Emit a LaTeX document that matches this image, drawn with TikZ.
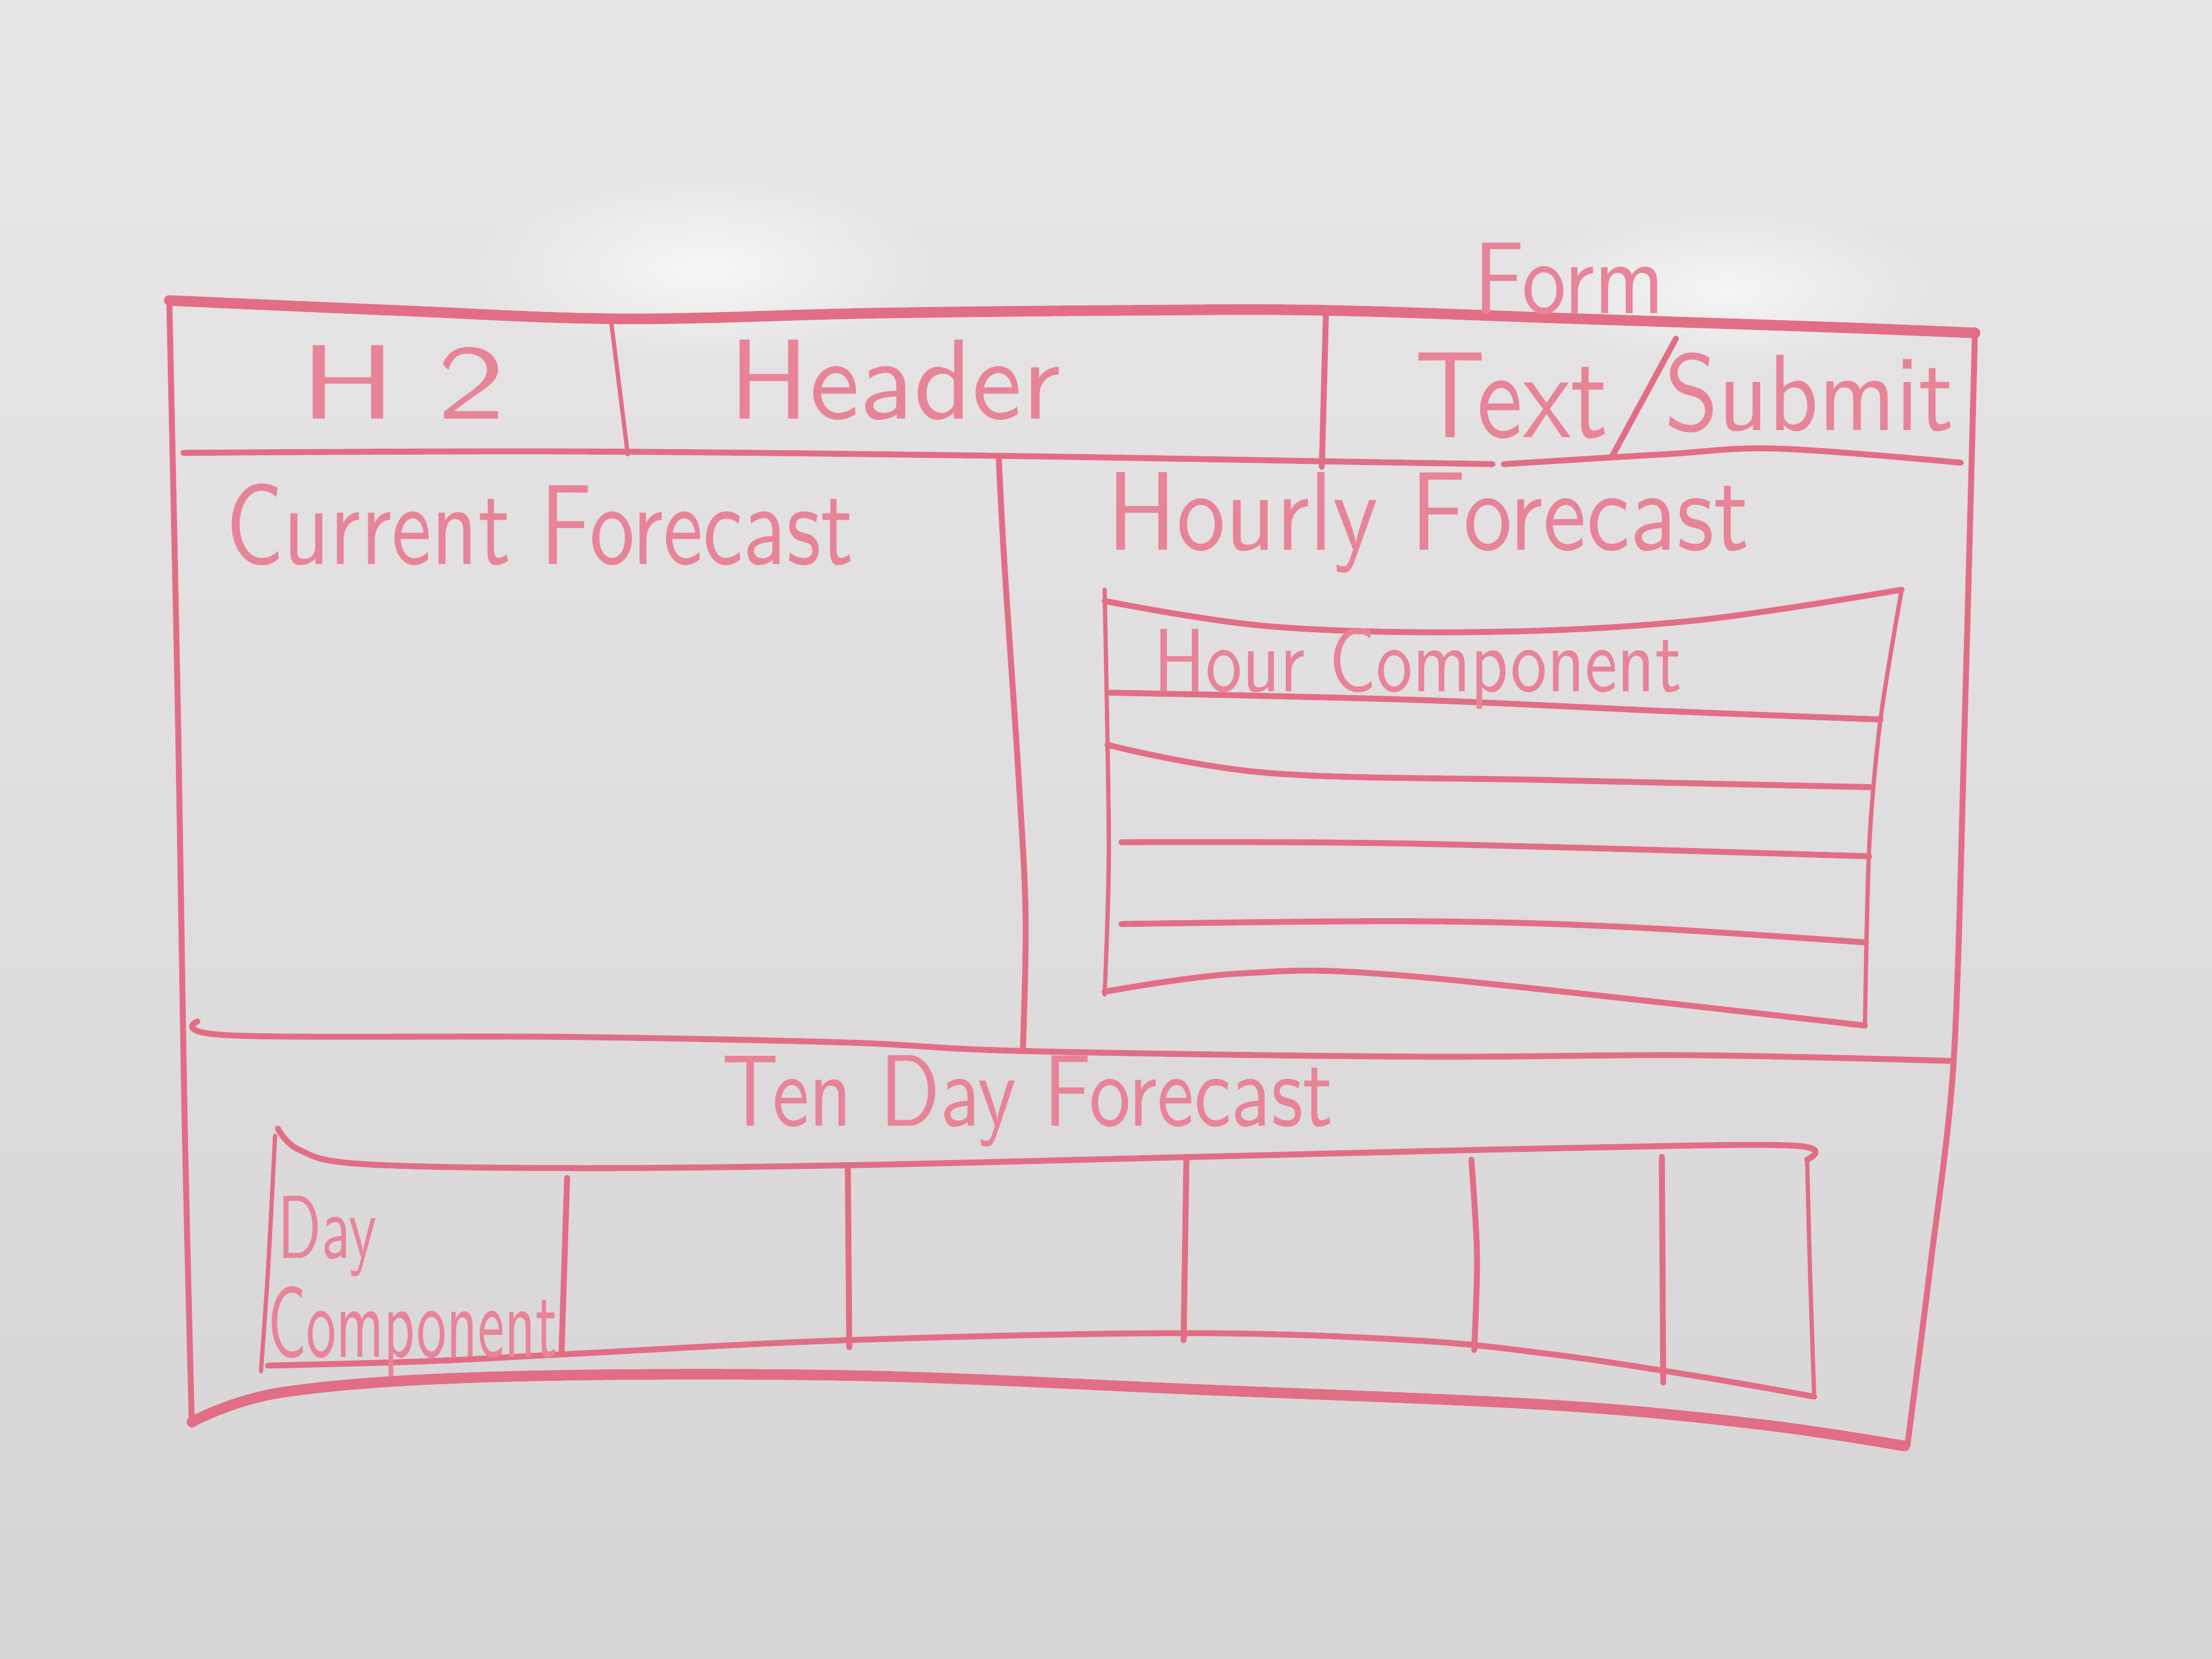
\documentclass[tikz,border=0pt]{standalone}
\usepackage{graphicx}
\usetikzlibrary{fadings}
\definecolor{boardtop}{RGB}{232,230,231}
\definecolor{boardbot}{RGB}{214,212,213}
\definecolor{ink}{RGB}{226,110,133}
\definecolor{inktext}{RGB}{232,132,152}
% soft radial glow for reflections on the board
\tikzfading[name=glow, inner color=transparent!0, outer color=transparent!100]
% handwritten label squeezed into a given box (width, height in mm)
\newcommand{\hw}[3]{\resizebox{#1mm}{#2mm}{\sffamily #3}}
\begin{document}
\begin{tikzpicture}[x=0.1mm,y=-0.1mm,
  stroke/.style={draw=ink, line width=0.42mm, line cap=round, line join=round},
  heavy/.style={stroke, line width=0.75mm},
  fine/.style={stroke, line width=0.3mm},
  label/.style={text=inktext, inner sep=0pt, outer sep=0pt, anchor=base west}]

% whiteboard surface
\shade[top color=boardtop, bottom color=boardbot] (0,0) rectangle (1568,1176);
\useasboundingbox (0,0) rectangle (1568,1176);
\fill[white, opacity=0.7, path fading=glow] (500,190) ellipse [x radius=170, y radius=70];
\fill[white, opacity=0.65, path fading=glow] (1225,205) ellipse [x radius=150, y radius=60];

% ---- outer frame ----
\draw[heavy] plot[smooth, tension=0.6] coordinates
  {(120,213) (280,220) (440,226) (620,222) (800,220) (940,220) (1120,226) (1300,232) (1400,236)};
\draw[stroke] plot[smooth, tension=0.5] coordinates {(120,213) (126,500) (131,800) (136,1010)};
\draw[stroke] plot[smooth, tension=0.5] coordinates {(1400,234) (1393,500) (1385,750) (1368,900) (1352,1025)};
\draw[heavy] plot[smooth, tension=0.6] coordinates
  {(136,1008) (200,987) (350,976) (600,975) (850,985) (1100,996) (1250,1010) (1350,1025)};

% ---- header row ----
\draw[stroke] plot[smooth, tension=0.6] coordinates {(130,321) (400,320) (700,323) (938,327)};
\draw[stroke] plot[smooth, tension=0.6] coordinates {(938,327) (1058,329)};
\draw[stroke] plot[smooth, tension=0.6] coordinates {(1066,329) (1180,322) (1260,318) (1390,328)};
\draw[fine] (433,226) -- (445,322);
\draw[stroke] (940,219) -- (937,331);

% ---- middle panels ----
\draw[stroke] plot[smooth, tension=0.6] coordinates {(708,325) (712,400) (722,550) (727,650) (725,745)};
\draw[stroke] plot[smooth, tension=0.6] coordinates
  {(140,724) (165,734) (400,735) (600,739) (725,745) (1000,749) (1200,748) (1382,752)};

% ---- hourly component list ----
\draw[fine] plot[smooth, tension=0.5] coordinates {(783,418) (786,600) (783,705)};
\draw[fine] plot[smooth, tension=0.5] coordinates {(1348,418) (1333,510) (1325,600) (1322,727)};
\draw[stroke] plot[smooth, tension=0.6] coordinates {(783,426) (900,444) (1050,448) (1200,440) (1348,418)};
\draw[stroke] plot[smooth, tension=0.6] coordinates {(787,491) (1000,496) (1180,504) (1333,510)};
\draw[stroke] plot[smooth, tension=0.6] coordinates {(785,528) (900,548) (1100,553) (1327,558)};
\draw[stroke] plot[smooth, tension=0.6] coordinates {(795,597) (1000,598) (1325,607)};
\draw[stroke] plot[smooth, tension=0.6] coordinates {(795,655) (1000,653) (1150,657) (1322,668)};
\draw[stroke] plot[smooth, tension=0.6] coordinates {(783,703) (880,690) (1000,692) (1322,727)};

% ---- ten day component strip ----
\draw[stroke] plot[smooth, tension=0.6] coordinates
  {(197,800) (212,815) (255,825) (400,828) (600,826) (850,820) (1100,814) (1270,812) (1281,822)};
\draw[fine] plot[smooth, tension=0.5] coordinates {(195,805) (190,900) (185,972)};
\draw[fine] plot[smooth, tension=0.5] coordinates {(1281,822) (1283,900) (1286,990)};
\draw[stroke] plot[smooth, tension=0.6] coordinates
  {(190,968) (300,965) (400,960) (600,950) (840,945) (1000,950) (1100,960) (1200,975) (1286,990)};
\draw[stroke] (402,835) -- (398,960);
\draw[stroke] (601,828) -- (602,955);
\draw[stroke] (841,822) -- (839,950);
\draw[stroke] plot[smooth, tension=0.5] coordinates {(1043,822) (1047,890) (1045,957)};
\draw[stroke] (1178,820) -- (1179,980);

% ---- labels ----
\node[label] (h2) at (213,297) {\hw{14.5}{5.2}{H\kern0.3em2}};
\node[label] (header) at (517,297) {\hw{23.5}{5.6}{Header}};
\node[label] (form) at (1045,222) {\hw{13.5}{5.0}{Form}};
\node[label] (text) at (1003,310) {\hw{13.7}{6.0}{Text}};
\draw[stroke] (1188,240) -- (1143,323);
\node[label] (submit) at (1180,305) {\hw{20.5}{5.5}{Submit}};
\node[label] (current) at (160,400) {\hw{44.5}{5.7}{Current Forecast}};
\node[label] (hourly) at (785,390) {\hw{45.5}{5.5}{Hourly Forecast}};
\node[label] (hour) at (818,490) {\hw{37.4}{4.5}{Hour Component}};
\node[label] (tenday) at (512,798) {\hw{43.3}{5.0}{Ten Day Forecast}};
\node[label] (day) at (197,892) {\hw{7.0}{4.4}{Day}};
\node[label] (daycomp) at (190,962) {\hw{20.5}{5.0}{Component}};
\end{tikzpicture}
\end{document}
